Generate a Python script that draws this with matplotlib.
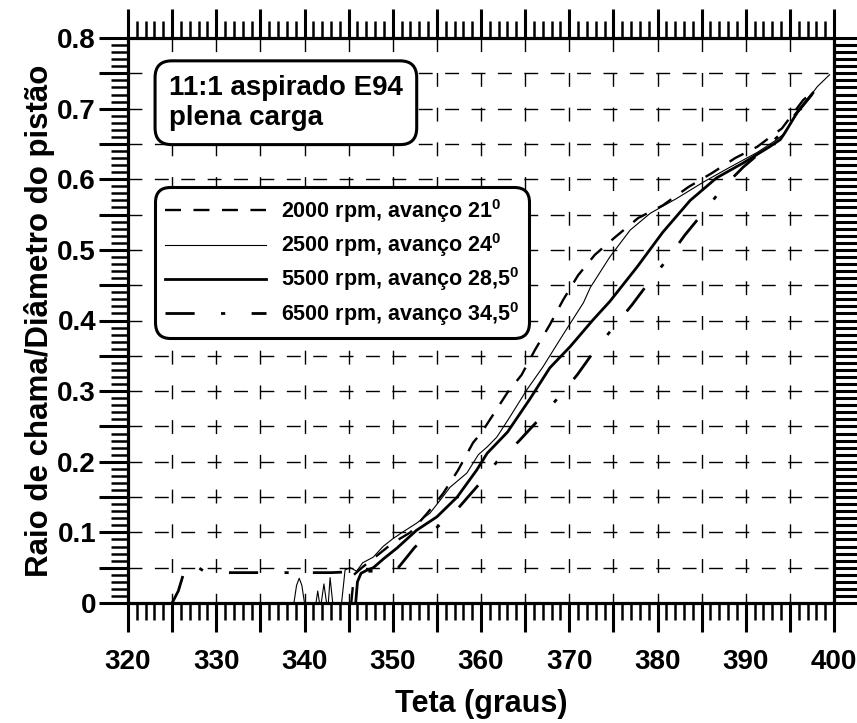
import numpy as np
import matplotlib
matplotlib.use("Agg")
from matplotlib import pyplot as plt
from matplotlib.ticker import MultipleLocator, FuncFormatter

plt.rcParams['font.family'] = ['Liberation Sans', 'DejaVu Sans']
plt.rcParams['font.weight'] = 'bold'
plt.rcParams['mathtext.fontset'] = 'custom'
plt.rcParams['mathtext.rm'] = 'Liberation Sans:bold'
plt.rcParams['mathtext.bf'] = 'Liberation Sans:bold'
plt.rcParams['lines.scale_dashes'] = False

# 2000 rpm, avanco 21
teta_2000 = [345.3, 345.6, 346.5, 348.0, 350.0, 352.0, 353.9, 355.7, 357.4, 359.1, 360.1,
             363.0, 364.6, 366.1, 367.8, 369.3, 371.0, 372.9, 375.2, 377.8, 380.6,
             383.5, 386.2, 388.8, 391.3, 394.1, 396.5, 397.6]
raio_2000 = [0.0, 0.040, 0.050, 0.065, 0.085, 0.100, 0.127, 0.155, 0.188, 0.227, 0.242,
             0.298, 0.323, 0.358, 0.394, 0.429, 0.464, 0.493, 0.518, 0.545, 0.563,
             0.589, 0.609, 0.630, 0.646, 0.672, 0.712, 0.724]

# 2500 rpm, avanco 24
teta_2500 = [338.8, 339.1, 339.4, 339.7, 340.0, 341.3, 341.5, 341.7, 341.9, 342.2, 342.5,
             342.7, 342.9, 343.2, 344.2, 344.6, 345.2, 345.9, 346.6, 347.8, 348.9,
             349.9, 351.2, 352.7, 354.2, 355.4, 356.5, 358.4, 359.7, 360.7, 361.8,
             363.3, 365.2, 367.0, 369.3, 371.6, 372.4, 374.6, 376.9, 379.2, 382.2,
             385.2, 388.2, 391.3, 393.5, 394.2, 396.1, 398.1, 399.5]
raio_2500 = [0.0, 0.025, 0.035, 0.025, 0.0, 0.0, 0.017, 0.0, 0.0, 0.027, 0.0,
             0.0, 0.036, 0.0, 0.0, 0.047, 0.050, 0.045, 0.057, 0.065, 0.080,
             0.090, 0.101, 0.113, 0.127, 0.146, 0.164, 0.184, 0.210, 0.221, 0.235,
             0.264, 0.302, 0.334, 0.380, 0.425, 0.447, 0.490, 0.528, 0.552, 0.573,
             0.596, 0.617, 0.638, 0.656, 0.663, 0.698, 0.731, 0.748]

# 5500 rpm, avanco 28,5
teta_5500 = [345.8, 346.0, 346.4, 347.0, 347.8, 349.0, 350.5, 352.7, 355.0, 357.3, 359.5,
             360.7, 363.0, 365.6, 367.8, 370.1, 372.7, 374.6, 377.7, 380.6, 383.7,
             386.7, 389.7, 392.7, 393.9, 394.4, 395.8, 397.6]
raio_5500 = [0.0, 0.030, 0.042, 0.046, 0.050, 0.063, 0.078, 0.103, 0.122, 0.150, 0.188,
             0.212, 0.242, 0.290, 0.333, 0.363, 0.401, 0.427, 0.476, 0.525, 0.570,
             0.602, 0.623, 0.646, 0.656, 0.665, 0.694, 0.722]

# 6500 rpm, avanco 34,5
teta_6500 = [325.0, 325.7, 326.5, 327.0, 328.0, 328.6, 330.0, 333.0, 336.4, 339.8, 340.1,
             340.5, 343.0, 346.9, 349.5, 350.5, 352.5, 355.0, 357.4, 359.7, 361.8,
             364.2, 366.5, 368.7, 370.9, 372.9, 375.0, 377.1, 379.2, 381.2, 383.1,
             385.4, 387.4, 389.7, 392.4, 394.2, 395.5, 397.5]
raio_6500 = [0.0, 0.017, 0.050, 0.057, 0.050, 0.045, 0.043, 0.043, 0.043, 0.043, 0.047,
             0.043, 0.043, 0.045, 0.045, 0.048, 0.079, 0.107, 0.134, 0.167, 0.200,
             0.228, 0.259, 0.290, 0.323, 0.358, 0.390, 0.422, 0.457, 0.488, 0.521,
             0.556, 0.588, 0.617, 0.646, 0.667, 0.690, 0.720]

rotulos = ["2000 rpm, avanço 21$^{0}$",
           "2500 rpm, avanço 24$^{0}$",
           "5500 rpm, avanço 28,5$^{0}$",
           "6500 rpm, avanço 34,5$^{0}$"]

fig = plt.figure(figsize=(8.57, 7.23), dpi=100)
ax = fig.add_axes([128 / 857, 1 - 603 / 723, 706 / 857, 565 / 723])

ax.plot(teta_2000, raio_2000, color='black', lw=1.7, linestyle=(0, (11.5, 9.0)), label=rotulos[0])
ax.plot(teta_2500, raio_2500, color='black', lw=0.8, label=rotulos[1])
ax.plot(teta_5500, raio_5500, color='black', lw=2.0, label=rotulos[2])
ax.plot(teta_6500, raio_6500, color='black', lw=2.0,
        linestyle=(0, (21.0, 19.0, 3.0, 19.0)), label=rotulos[3])

ax.set_xlim(320, 400)
ax.set_ylim(0, 0.8)

ax.xaxis.set_major_locator(MultipleLocator(5))
ax.xaxis.set_minor_locator(MultipleLocator(1))
ax.yaxis.set_major_locator(MultipleLocator(0.05))
ax.yaxis.set_minor_locator(MultipleLocator(0.01))
ax.xaxis.set_major_formatter(FuncFormatter(lambda v, p: "%d" % v if round(v) % 10 == 0 else ""))


def fmt_y(v, p):
    k = int(round(v * 100))
    if k % 10 != 0:
        return ""
    return "0" if k == 0 else "%.1f" % v


ax.yaxis.set_major_formatter(FuncFormatter(fmt_y))

ax.tick_params(axis='x', which='both', direction='out', top=True, bottom=True, labelsize=20, pad=12)
ax.tick_params(axis='y', which='both', direction='out', left=True, right=False, labelsize=20, pad=2)
ax.tick_params(which='major', length=21, width=2.2)
ax.tick_params(which='minor', length=12, width=1.8)

# eixo da direita com marcas densas
ax2 = ax.twinx()
ax2.set_ylim(0, 0.8)
ax2.yaxis.set_major_locator(MultipleLocator(0.05))
ax2.yaxis.set_minor_locator(MultipleLocator(0.01))
ax2.tick_params(which='both', direction='out', length=17, width=2.2, labelright=False)
for s in ax2.spines.values():
    s.set_visible(False)

for s in ax.spines.values():
    s.set_linewidth(2.3)

ax.xaxis.grid(True, which='major', color='black', lw=1.0, linestyle=(3, (10, 15)))
ax.yaxis.grid(True, which='major', color='black', lw=1.0, linestyle=(0, (10, 9)))
ax.set_axisbelow(True)

ax.set_xlabel("Teta (graus)", fontsize=22, fontweight='bold', labelpad=10)
ax.set_ylabel("Raio de chama/Diâmetro do pistão", fontsize=22.5, fontweight='bold', labelpad=2)

ax.text(0.058, 0.935, "11:1 aspirado E94\nplena carga", transform=ax.transAxes,
        fontsize=20, fontweight='bold', va='top', ha='left', linespacing=1.2, zorder=5,
        bbox=dict(boxstyle='round,pad=0.5,rounding_size=0.6', fc='white', ec='black', lw=2.2))

leg = ax.legend(loc='upper left', bbox_to_anchor=(0.038, 0.736), fontsize=15.5,
                handlelength=4.7, handletextpad=0.7, labelspacing=0.3, borderpad=0.45,
                borderaxespad=0, fancybox=True, framealpha=1, edgecolor='black')
leg.get_frame().set_linewidth(2.2)
leg.get_frame().set_boxstyle('round,pad=0,rounding_size=0.7')
leg.set_zorder(5)

fig.savefig("out.png", dpi=100)
